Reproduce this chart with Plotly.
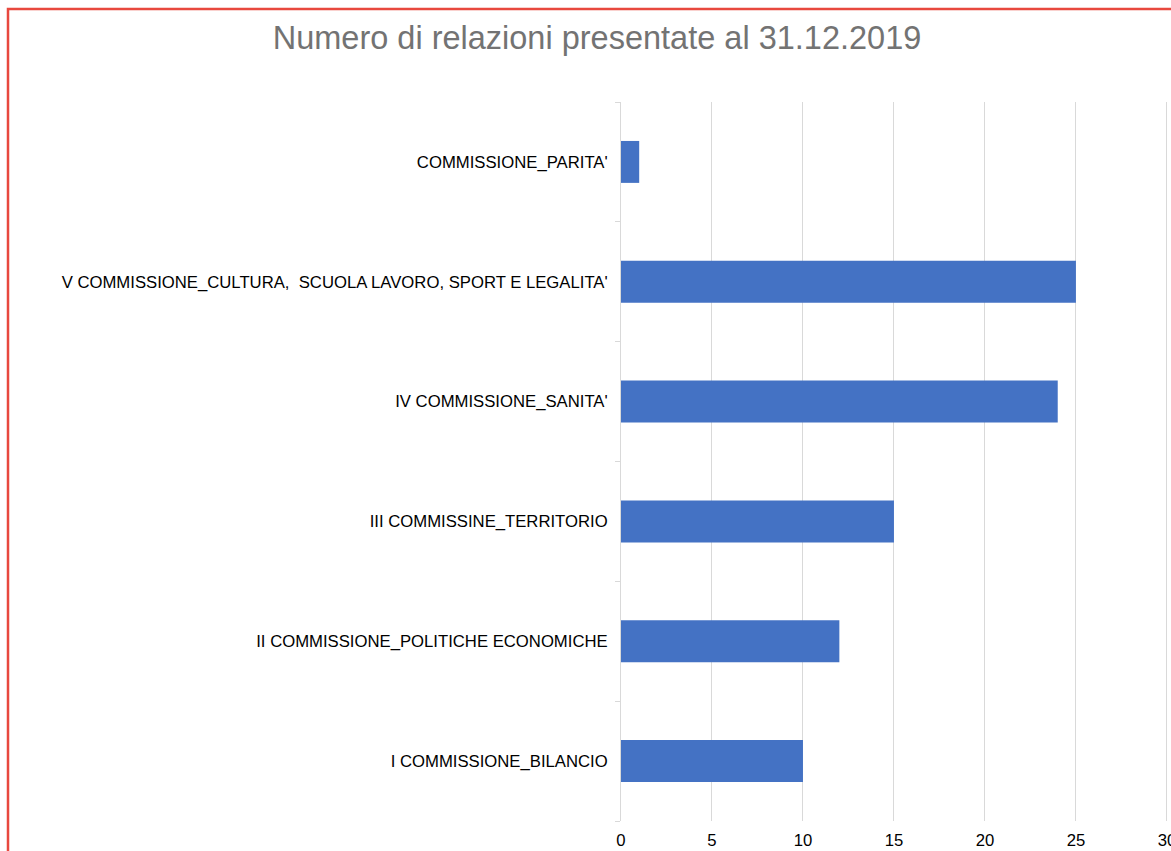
import plotly.graph_objects as go

categories = [
    "I COMMISSIONE_BILANCIO",
    "II COMMISSIONE_POLITICHE ECONOMICHE",
    "III COMMISSINE_TERRITORIO",
    "IV COMMISSIONE_SANITA'",
    "V COMMISSIONE_CULTURA,  SCUOLA LAVORO, SPORT E LEGALITA'",
    "COMMISSIONE_PARITA'",
]
values = [10, 12, 15, 24, 25, 1]
x_ticks = [0, 5, 10, 15, 20, 25, 30]
title_text = "Numero di relazioni presentate al 31.12.2019"

W, H = 1171, 851
L, T = 621, 102
R = W - 1168
B = H - 821
pw, ph = W - L - R, H - T - B

fig = go.Figure(go.Bar(
    y=categories, x=values, orientation="h",
    marker=dict(color="#4472C4", line=dict(width=0)),
))

fig.update_layout(
    width=W, height=H,
    margin=dict(l=L, r=R, t=T, b=B, autoexpand=False),
    paper_bgcolor="white", plot_bgcolor="white",
    bargap=0.65,
    showlegend=False,
    title=dict(text=title_text, x=597 / W, xref="container", xanchor="center",
               y=1 - 38 / H, yref="container", yanchor="middle",
               font=dict(family="Liberation Sans, Arial", size=32.5, color="#737373")),
    font=dict(family="Liberation Sans, Arial", size=16.7, color="black"),
)
fig.update_xaxes(range=[0, 30.06], tickvals=x_ticks, showgrid=True, gridcolor="#d9d9d9",
                 gridwidth=1, zeroline=False, showline=False, ticks="",
                 automargin=False, ticklabelstandoff=7, ticklabeloverflow="allow",
                 tickfont=dict(size=16.7, color="black"))
fig.update_yaxes(showline=True, linecolor="#d9d9d9", linewidth=1, ticks="outside",
                 tickson="boundaries", ticklen=5, tickcolor="#d9d9d9",
                 automargin=False, ticklabelstandoff=9,
                 tickfont=dict(size=16.7, color="black"))

# red frame around the chart
x0 = (8 - L) / pw
y1 = 1 + (T - 9) / ph
fig.add_shape(type="rect", xref="paper", yref="paper",
              x0=x0, x1=(W + 20 - L) / pw, y0=-(B + 20) / ph, y1=y1,
              line=dict(color="#E8483E", width=2.5), fillcolor="rgba(0,0,0,0)")

fig.write_html(
    "out.html",
    config={"displayModeBar": False},
    post_script="document.body.style.margin='0';document.body.style.overflow='hidden';",
)
